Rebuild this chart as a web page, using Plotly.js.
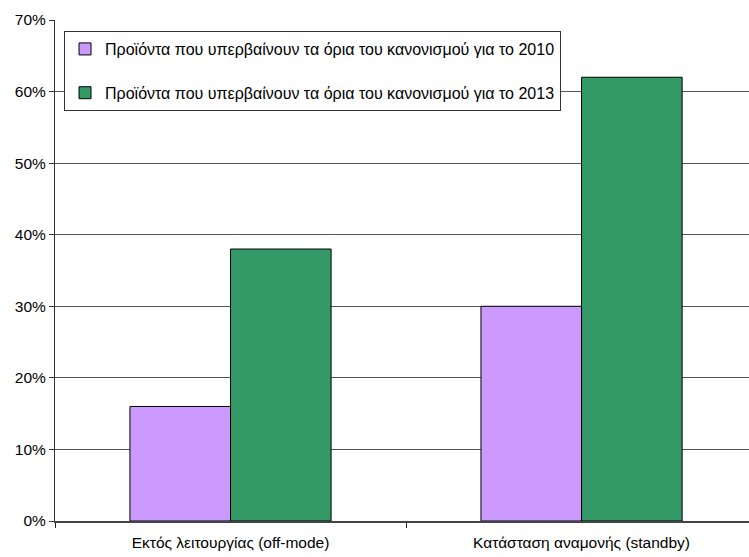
<!DOCTYPE html>
<html>
<head>
<meta charset="utf-8">
<script src="https://cdn.plot.ly/plotly-3.0.1.min.js"></script>
<style>html,body{margin:0;padding:0;background:#fff;overflow:hidden}</style>
</head>
<body>
<div id="chart" style="width:749px;height:557px"></div>
<script>
const categories = ["Εκτός λειτουργίας (off-mode)", "Κατάσταση αναμονής (standby)"];
const series2010Name = "Προϊόντα που υπερβαίνουν τα όρια του κανονισμού για το 2010";
const series2013Name = "Προϊόντα που υπερβαίνουν τα όρια του κανονισμού για το 2013";
const values2010 = [16, 30];
const values2013 = [38, 62];
const yTickVals = [0, 10, 20, 30, 40, 50, 60, 70];
const yTickText = ["0%", "10%", "20%", "30%", "40%", "50%", "60%", "70%"];

const font = "Liberation Sans, Arial, sans-serif";
const traces = [
  {type: "bar", name: series2010Name, x: categories, y: values2010, legendgroup: "a",
   marker: {color: "#CC99FF", line: {color: "#000", width: 1}}, hoverinfo: "skip"},
  {type: "bar", name: series2013Name, x: categories, y: values2013, legendgroup: "b",
   marker: {color: "#339966", line: {color: "#000", width: 1}}, hoverinfo: "skip"}
];
const layout = {
  width: 749, height: 557,
  margin: {l: 55, r: 0, t: 20, b: 36},
  paper_bgcolor: "#fff", plot_bgcolor: "#fff",
  font: {family: font, size: 15, color: "#000"},
  barmode: "group", bargap: 0.427, bargroupgap: 0,
  showlegend: true,
  legend: {x: 0.013, y: 0.978, xanchor: "left", yanchor: "top",
    bordercolor: "#333", borderwidth: 1, bgcolor: "#fff",
    traceorder: "grouped", tracegroupgap: 20,
    font: {family: font, size: 16, color: "#000"}},
  xaxis: {type: "category", range: [-0.5, 1.477], showgrid: false,
    showline: true, linecolor: "#444", linewidth: 2,
    ticks: "outside", tickson: "boundaries", ticklen: 5, tickcolor: "#222", tickwidth: 1,
    ticklabelstandoff: 6,
    tickfont: {family: font, size: 15.5, color: "#000"},
    fixedrange: true, zeroline: false},
  yaxis: {range: [0, 70], tickvals: yTickVals, ticktext: yTickText,
    showgrid: true, gridcolor: "#555", gridwidth: 1,
    showline: true, linecolor: "#333", linewidth: 1,
    ticks: "outside", ticklen: 5, tickcolor: "#333",
    tickfont: {family: font, size: 15.5, color: "#000"},
    zeroline: false, fixedrange: true}
};
Plotly.newPlot("chart", traces, layout, {staticPlot: true, displayModeBar: false});
</script>
</body>
</html>
